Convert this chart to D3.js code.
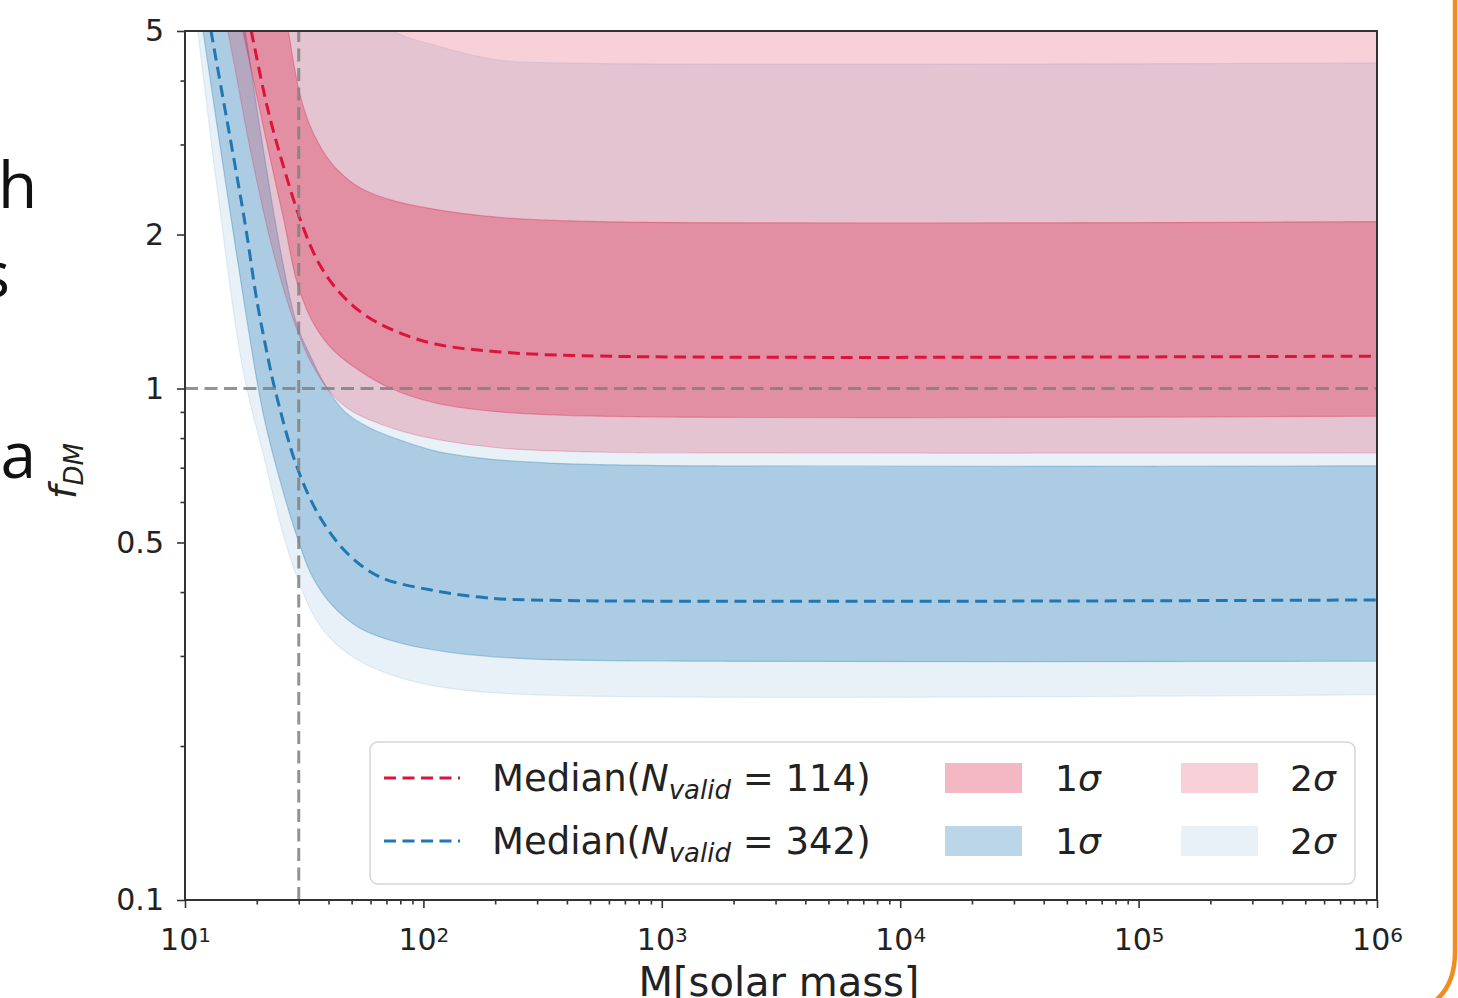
<!DOCTYPE html>
<html>
<head>
<meta charset="utf-8">
<script src="https://cdn.jsdelivr.net/npm/d3@7"></script>
<style>
  body { margin: 0; background: #fff; }
  svg { display: block; }
  text { font-family: "DejaVu Sans", sans-serif; fill: #222; }
</style>
</head>
<body>
<div id="chart"></div>
<script>
// values: [mass in solar masses, f_DM]
var redMedian = [[17,6.4],[19.3,4.80],[22.3,3.50],[26.3,2.65],[31.0,2.09],[36.8,1.743],[44.7,1.537],[56.9,1.392],[76.0,1.296],[111.9,1.222],[209.6,1.179],[550.6,1.157],[1e6,1.157]];
var red1Upper = [[22,7.4],[27.1,5],[28.4,4.39],[30.4,3.75],[33.4,3.27],[37.6,2.93],[43.8,2.67],[54.2,2.47],[72.4,2.34],[111.9,2.24],[209.6,2.16],[550.6,2.12],[1e6,2.12]];
var red1Lower = [[14,8],[17.5,5],[21.9,3.06],[26.0,2.13],[29.8,1.586],[35.1,1.325],[42.6,1.179],[54.2,1.082],[72.4,1.002],[111.9,0.937],[209.6,0.900],[550.6,0.883],[1e6,0.883]];
var red2Upper = [[10,20],[1e6,20]];
var red2Lower = [[12,8],[15.1,5],[19.1,2.82],[23.8,1.80],[29.5,1.301],[34.1,1.116],[40.6,0.985],[49.2,0.908],[62.7,0.860],[83.7,0.822],[117.4,0.793],[209.6,0.765],[550.6,0.751],[3802,0.748],[1e6,0.748]];

var blueMedian = [[11,7.55],[13.1,4.76],[17.9,2.09],[20,1.49],[22.3,1.147],[23.8,1.0],[29.5,0.702],[36.8,0.561],[47.8,0.477],[65.8,0.428],[106.6,0.404],[172.7,0.391],[280,0.386],[1e6,0.386]];
var blue1Upper = [[14,10.6],[17.9,5],[21.0,3.06],[25.5,1.80],[29.5,1.331],[33.4,1.163],[38.7,1.016],[46.9,0.900],[59.7,0.837],[79.8,0.793],[111.9,0.755],[172.8,0.731],[339.6,0.715],[1445,0.706],[1e6,0.706]];
var blue1Lower = [[10,8.6],[11.9,5],[14.7,2.58],[17.9,1.424],[21.2,0.900],[25.0,0.662],[29.5,0.513],[34.1,0.430],[41.4,0.377],[54.2,0.340],[79.8,0.318],[129.3,0.305],[280,0.296],[1445,0.293],[1e6,0.293]];
var blue2Upper = [[10,60],[20,15],[30,8.5],[50,5.8],[78.2,4.95],[112,4.69],[204,4.39],[385,4.33],[1e6,4.33]];
var blue2Lower = [[10,7.9],[11.3,5],[13.8,2.36],[17.5,1.087],[21.7,0.718],[25.5,0.529],[29.8,0.422],[35.1,0.356],[42.6,0.318],[54.2,0.293],[76.0,0.274],[117.4,0.261],[280,0.252],[1e6,0.252]];

var refMass = 30, refFrac = 1;
var yTickValues = [0.1, 0.5, 1, 2, 5];
var yTickLabels = ['0.1', '0.5', '1', '2', '5'];
var xTickValues = [10, 100, 1e3, 1e4, 1e5, 1e6];
var xTickExponents = ['1', '2', '3', '4', '5', '6'];
var legendNames = ['114', '342'];

var red = '#dc143c', blue = '#1f77b4';

var w = 1458, h = 998;
var svg = d3.select('#chart').append('svg')
    .attr('width', w)
    .attr('height', h);

var x = d3.scaleLog().domain([10, 1e6]).range([185, 1377]);
var y = d3.scaleLog().domain([0.1, 5]).range([900, 31]);

// bits of the slide around the chart
var slide = [['h', -2, 208, 'start'], ['s', 10, 297, 'end'], ['a', 36, 478, 'end']];
svg.selectAll('.slide')
    .data(slide)
    .enter()
    .append('text')
    .attr('x', function(d) { return d[1]; })
    .attr('y', function(d) { return d[2]; })
    .attr('text-anchor', function(d) { return d[3]; })
    .style('font-family', '"Open Sans", sans-serif')
    .style('font-size', '64px')
    .style('fill', '#111')
    .text(function(d) { return d[0]; });

svg.append('path')
    .attr('d', 'M1455,-5 L1455,952 Q1455,990 1428,1006')
    .attr('fill', 'none')
    .attr('stroke', '#f28c1e')
    .attr('stroke-width', 4.5);

svg.append('clipPath').attr('id', 'plot')
  .append('rect')
    .attr('x', 185).attr('y', 31)
    .attr('width', 1377 - 185).attr('height', 900 - 31);

var line = d3.line()
    .x(function(d) { return x(d[0]); })
    .y(function(d) { return y(d[1]); })
    .curve(d3.curveCatmullRom.alpha(0.5));

function band(upper, lower) {
  return line(upper) + line(lower.slice().reverse()).replace('M', 'L') + 'Z';
}

var plot = svg.append('g').attr('clip-path', 'url(#plot)');

var bands = [
  {upper: blue2Upper, lower: blue2Lower, color: blue, alpha: 0.1},
  {upper: blue1Upper, lower: blue1Lower, color: blue, alpha: 0.3},
  {upper: red2Upper, lower: red2Lower, color: red, alpha: 0.2},
  {upper: red1Upper, lower: red1Lower, color: red, alpha: 0.3}
];

plot.selectAll('.band')
    .data(bands)
    .enter()
    .append('path')
    .attr('class', 'band')
    .attr('d', function(d) { return band(d.upper, d.lower); })
    .attr('fill', function(d) { return d.color; })
    .attr('fill-opacity', function(d) { return d.alpha; })
    .attr('stroke', function(d) { return d.color; })
    .attr('stroke-opacity', function(d) { return d.alpha; })
    .attr('stroke-width', 1.2);

plot.selectAll('.median')
    .data([{pts: blueMedian, color: blue}, {pts: redMedian, color: red}])
    .enter()
    .append('path')
    .attr('class', 'median')
    .attr('d', function(d) { return line(d.pts); })
    .attr('fill', 'none')
    .attr('stroke', function(d) { return d.color; })
    .attr('stroke-width', 3)
    .attr('stroke-dasharray', '12,6.5');

// reference lines
plot.append('line')
    .attr('x1', x(10)).attr('x2', x(1e6))
    .attr('y1', y(refFrac)).attr('y2', y(refFrac))
    .attr('stroke', '#808080').attr('stroke-opacity', 0.85)
    .attr('stroke-width', 3).attr('stroke-dasharray', '13,6.5');
plot.append('line')
    .attr('x1', x(refMass)).attr('x2', x(refMass))
    .attr('y1', y(0.1)).attr('y2', y(5))
    .attr('stroke', '#808080').attr('stroke-opacity', 0.85)
    .attr('stroke-width', 3).attr('stroke-dasharray', '13,6.5');

// axes
var xMinor = x.ticks().filter(function(t) { return xTickValues.indexOf(t) < 0; });
var yMinor = y.ticks().filter(function(t) { return yTickValues.indexOf(t) < 0; });

svg.append('g')
    .attr('transform', 'translate(0,900)')
    .call(d3.axisBottom(x).tickValues(xMinor).tickSize(4.5).tickFormat(''))
    .call(function(g) { g.select('.domain').remove(); });
svg.append('g')
    .attr('transform', 'translate(185,0)')
    .call(d3.axisLeft(y).tickValues(yMinor).tickSize(4.5).tickFormat(''))
    .call(function(g) { g.select('.domain').remove(); });

var xAxis = svg.append('g')
    .attr('transform', 'translate(0,900)')
    .call(d3.axisBottom(x).tickValues(xTickValues).tickSize(8).tickPadding(21).tickFormat(''));
xAxis.select('.domain').remove();
xAxis.selectAll('.tick text')
    .style('font-size', '30px')
    .each(function(d, i) {
      var t = d3.select(this);
      t.append('tspan').text('10');
      t.append('tspan').attr('dy', '-0.42em').style('font-size', '20px').text(xTickExponents[i]);
    });

var yAxis = svg.append('g')
    .attr('transform', 'translate(185,0)')
    .call(d3.axisLeft(y).tickValues(yTickValues).tickSize(8).tickPadding(13)
      .tickFormat(function(d, i) { return yTickLabels[i]; }));
yAxis.select('.domain').remove();
yAxis.selectAll('.tick text').style('font-size', '30px');

svg.selectAll('.tick line').attr('stroke', '#333').attr('stroke-width', 1.6);

svg.append('rect')
    .attr('x', 185).attr('y', 31)
    .attr('width', 1377 - 185).attr('height', 900 - 31)
    .attr('fill', 'none')
    .attr('stroke', '#333')
    .attr('stroke-width', 2);

svg.append('text')
    .attr('x', 779)
    .attr('y', 996)
    .attr('text-anchor', 'middle')
    .style('font-size', '40px')
    .text('M[solar mass]');

var ylab = svg.append('text')
    .attr('transform', 'translate(76,471) rotate(-90)')
    .attr('text-anchor', 'middle')
    .style('font-size', '38px');
ylab.append('tspan').style('font-style', 'italic').text('f');
ylab.append('tspan').attr('dy', 7).style('font-style', 'italic').style('font-size', '26px').text('DM');

// legend
var leg = svg.append('g');
leg.append('rect')
    .attr('x', 370).attr('y', 742)
    .attr('width', 985).attr('height', 142)
    .attr('rx', 8)
    .attr('fill', '#fff').attr('fill-opacity', 0.85)
    .attr('stroke', '#d6d6d6').attr('stroke-width', 1.5);

var rows = [
  {name: legendNames[0], color: red, a1: 0.3, a2: 0.2, cy: 778},
  {name: legendNames[1], color: blue, a1: 0.3, a2: 0.1, cy: 841}
];

var row = leg.selectAll('.row')
    .data(rows)
    .enter()
    .append('g')
    .attr('transform', function(d) { return 'translate(0,' + d.cy + ')'; });

row.append('line')
    .attr('x1', 384).attr('x2', 460)
    .attr('stroke', function(d) { return d.color; })
    .attr('stroke-width', 3)
    .attr('stroke-dasharray', '12,6.5');

var lt = row.append('text')
    .attr('x', 492).attr('y', 13)
    .style('font-size', '37px');
lt.append('tspan').text('Median(');
lt.append('tspan').style('font-style', 'italic').text('N');
lt.append('tspan').attr('dy', 8).style('font-style', 'italic').style('font-size', '26px').text('valid');
lt.append('tspan').attr('dy', -8).text(' = ');
lt.append('tspan').text(function(d) { return d.name + ')'; });

row.append('rect')
    .attr('x', 945).attr('y', -15).attr('width', 77).attr('height', 30)
    .attr('fill', function(d) { return d.color; })
    .attr('fill-opacity', function(d) { return d.a1; });
row.append('rect')
    .attr('x', 1181).attr('y', -15).attr('width', 77).attr('height', 30)
    .attr('fill', function(d) { return d.color; })
    .attr('fill-opacity', function(d) { return d.a2; });

var s1 = row.append('text').attr('x', 1055).attr('y', 13).style('font-size', '36px');
s1.append('tspan').text('1');
s1.append('tspan').style('font-style', 'italic').text('σ');
var s2 = row.append('text').attr('x', 1290).attr('y', 13).style('font-size', '36px');
s2.append('tspan').text('2');
s2.append('tspan').style('font-style', 'italic').text('σ');
</script>
</body>
</html>
